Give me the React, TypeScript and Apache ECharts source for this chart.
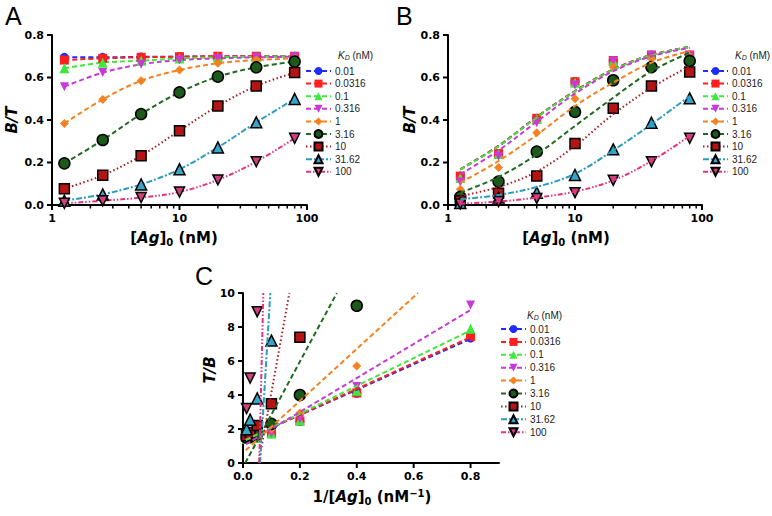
import { useEffect, useRef } from "react";
import * as echarts from "echarts";

// ---------- data ----------
const kdLabels = ["0.01", "0.0316", "0.1", "0.316", "1", "3.16", "10", "31.62", "100"];
const agConc = [1.25, 2.5, 5, 10, 20, 40, 80];
const invAgConc = [0.0125, 0.025, 0.05, 0.1, 0.2, 0.4, 0.8];
const logMajorTicks = [1, 10, 100];
const logMinorTicks = [2, 3, 4, 5, 6, 7, 8, 9, 20, 30, 40, 50, 60, 70, 80, 90];
const btTicks = [0, 0.2, 0.4, 0.6, 0.8];
const invTicks = [0, 0.2, 0.4, 0.6, 0.8];
const tbTicks = [0, 2, 4, 6, 8, 10];

// Panel A: B/T (points; fits pass through them)
const panelAPoints = [
  [0.695, 0.695, 0.697, 0.698, 0.699, 0.7, 0.7],
  [0.682, 0.69, 0.695, 0.698, 0.7, 0.7, 0.7],
  [0.643, 0.67, 0.679, 0.69, 0.695, 0.698, 0.7],
  [0.557, 0.623, 0.662, 0.682, 0.69, 0.695, 0.698],
  [0.384, 0.497, 0.585, 0.635, 0.667, 0.682, 0.69],
  [0.196, 0.306, 0.428, 0.53, 0.604, 0.648, 0.675],
  [0.077, 0.14, 0.232, 0.35, 0.466, 0.56, 0.623],
  [0.02, 0.05, 0.097, 0.168, 0.271, 0.389, 0.499],
  [0.008, 0.02, 0.035, 0.061, 0.118, 0.204, 0.314],
];

// Panel B: B/T points
const panelBPoints = [
  [0.136, 0.242, 0.408, 0.58, 0.68, 0.706, 0.706],
  [0.136, 0.242, 0.408, 0.58, 0.68, 0.706, 0.706],
  [0.127, 0.24, 0.405, 0.575, 0.678, 0.705, 0.705],
  [0.108, 0.23, 0.387, 0.565, 0.678, 0.704, 0.704],
  [0.074, 0.176, 0.34, 0.5, 0.65, 0.69, 0.7],
  [0.038, 0.11, 0.251, 0.438, 0.587, 0.649, 0.678],
  [0.02, 0.055, 0.136, 0.289, 0.455, 0.56, 0.626],
  [0.01, 0.035, 0.058, 0.141, 0.262, 0.387, 0.502],
  [0.005, 0.016, 0.031, 0.058, 0.116, 0.204, 0.314],
];

// Panel B: fitted curves (read at the same concentrations)
const panelBFits = [
  [0.168, 0.278, 0.414, 0.536, 0.638, 0.706, 0.744],
  [0.168, 0.278, 0.414, 0.536, 0.638, 0.706, 0.744],
  [0.166, 0.276, 0.412, 0.534, 0.636, 0.705, 0.743],
  [0.144, 0.257, 0.392, 0.524, 0.63, 0.7, 0.74],
  [0.105, 0.207, 0.33, 0.466, 0.576, 0.67, 0.725],
  [0.058, 0.132, 0.238, 0.372, 0.505, 0.63, 0.717],
  [0.042, 0.085, 0.157, 0.278, 0.427, 0.552, 0.654],
  [0.027, 0.047, 0.085, 0.147, 0.257, 0.38, 0.513],
  [0.006, 0.016, 0.035, 0.063, 0.116, 0.207, 0.325],
];

// Panel C: T/B points (null = off the plotted range)
const panelCPoints = [
  [1.42, 1.42, 1.47, 1.72, 2.45, 4.1, 7.35],
  [1.42, 1.43, 1.47, 1.73, 2.47, 4.12, 7.45],
  [1.42, 1.44, 1.48, 1.74, 2.5, 4.25, 7.9],
  [1.43, 1.45, 1.5, 1.77, 2.6, 4.5, 9.3],
  [1.45, 1.54, 1.68, 2.0, 2.94, 5.7, null],
  [1.49, 1.54, 1.7, 2.3, 4.0, 9.25, null],
  [1.6, 1.8, 2.2, 3.48, 7.4, null, null],
  [1.99, 2.55, 3.8, 7.2, null, null, null],
  [3.2, 5.0, 8.9, null, null, null, null],
];

// Panel C: fitted straight lines, start and end points [x, y]
const panelCFitStart = [
  [0.01, 1.4], [0.01, 1.4], [0.01, 1.35], [0.01, 1.1], [0.01, 0.75],
  [0.008, 0], [0.055, 0], [0.06, 0], [0.057, 0],
];
const panelCFitEnd = [
  [0.8, 7.3], [0.8, 7.4], [0.8, 7.8], [0.8, 9.0], [0.615, 10],
  [0.33, 10], [0.163, 10], [0.096, 10], [0.0715, 10],
];

// ---------- styles ----------
const DOWN_TRI = "path://M0,0L10,0L5,9Z";
const looks = [
  { fill: "#1f2cff", line: "#1f2cff", symbol: "circle", size: 9, border: 0, dash: [5, 3] },
  { fill: "#ff1f1f", line: "#ff1f1f", symbol: "rect", size: 9, border: 0, dash: [5, 3] },
  { fill: "#3ee83e", line: "#3ee83e", symbol: "triangle", size: 10, border: 0, dash: [5, 3] },
  { fill: "#c83ad8", line: "#c83ad8", symbol: DOWN_TRI, size: 9, border: 0, dash: [5, 3] },
  { fill: "#f58220", line: "#f58220", symbol: "diamond", size: 9, border: 0, dash: [5, 3] },
  { fill: "#1b5a1b", line: "#1f6a1f", symbol: "circle", size: 11, border: 1.5, dash: [5, 3] },
  { fill: "#b51414", line: "#a51d1d", symbol: "rect", size: 10, border: 1.5, dash: [1.5, 2.5] },
  { fill: "#35a6c8", line: "#2a9cbf", symbol: "triangle", size: 11, border: 1.5, dash: [6, 2, 2, 2] },
  { fill: "#d0407e", line: "#e8307f", symbol: DOWN_TRI, size: 10, border: 1.5, dash: [5, 2, 1.5, 2, 1.5, 2] },
];

const FONT = "DejaVu Sans";
const LEG_FONT = "Liberation Sans";

const tickLabel = { color: "#000", fontFamily: FONT, fontWeight: "bold" as const, fontSize: 11 };
const axisLine = { show: true, onZero: false, lineStyle: { color: "#000", width: 2 } };
const noTick = { show: false };

const gridA = { left: 52, top: 35, width: 255, height: 170 };
const gridB = { left: 448, top: 35, width: 254, height: 170 };
const gridC = { left: 243, top: 293, width: 256, height: 170 };

function itemStyleOf(k: number) {
  const l = looks[k];
  return { color: l.fill, borderColor: "#000", borderWidth: l.border, opacity: 1 };
}
function lineStyleOf(k: number) {
  const l = looks[k];
  return { color: l.line, width: 2, type: l.dash as any };
}

// tick marks drawn through the axes' own scales (api.coord)
function tickSeries(axisIdx: number, dir: "x" | "y", values: number[], base: number, len: number, width: number) {
  return {
    type: "custom", name: "_ticks", xAxisIndex: axisIdx, yAxisIndex: axisIdx,
    silent: true, z: 6, clip: false,
    data: values.map((v) => (dir === "x" ? [v, base] : [base, v])),
    renderItem: (_p: any, api: any) => {
      const pt = api.coord([api.value(0), api.value(1)]);
      const shape = dir === "x"
        ? { x1: pt[0], y1: pt[1], x2: pt[0], y2: pt[1] + len }
        : { x1: pt[0], y1: pt[1], x2: pt[0] - len, y2: pt[1] };
      return { type: "line", shape, style: { stroke: "#000", lineWidth: width } };
    },
  };
}

function buildOption(): any {
  const logX = (grid: number) => ({
    type: "log", logBase: 10, min: 1, max: 100, gridIndex: grid,
    axisLine, axisTick: noTick,
    axisLabel: { ...tickLabel, margin: 8 },
    splitLine: { show: false },
  });
  const btY = (grid: number) => ({
    type: "value", min: 0, max: 0.8, interval: 0.2, gridIndex: grid,
    axisLine, axisTick: noTick,
    axisLabel: { ...tickLabel, margin: 8, formatter: (v: number) => v.toFixed(1) },
    splitLine: { show: false },
  });

  const series: any[] = [];
  // Panel A
  kdLabels.forEach((name, k) => {
    series.push({
      type: "line", name, xAxisIndex: 0, yAxisIndex: 0,
      data: agConc.map((x, i) => [x, panelAPoints[k][i]]),
      smooth: 0.35, symbol: looks[k].symbol, symbolSize: looks[k].size,
      showSymbol: true, itemStyle: itemStyleOf(k), lineStyle: lineStyleOf(k),
      emphasis: { disabled: true },
    });
  });
  // Panel B fits
  kdLabels.forEach((name, k) => {
    series.push({
      type: "line", name, xAxisIndex: 1, yAxisIndex: 1,
      data: agConc.map((x, i) => [x, panelBFits[k][i]]),
      smooth: 0.35, symbol: looks[k].symbol, showSymbol: false,
      itemStyle: itemStyleOf(k), lineStyle: lineStyleOf(k),
      emphasis: { disabled: true },
    });
  });
  // Panel C fits
  kdLabels.forEach((name, k) => {
    series.push({
      type: "line", name, xAxisIndex: 2, yAxisIndex: 2,
      data: [panelCFitStart[k], panelCFitEnd[k]],
      symbol: looks[k].symbol, showSymbol: false,
      itemStyle: itemStyleOf(k), lineStyle: lineStyleOf(k),
      emphasis: { disabled: true },
    });
  });
  // Panel B points
  kdLabels.forEach((name, k) => {
    series.push({
      type: "scatter", name, xAxisIndex: 1, yAxisIndex: 1,
      data: agConc.map((x, i) => [x, panelBPoints[k][i]]),
      symbol: looks[k].symbol, symbolSize: looks[k].size,
      itemStyle: itemStyleOf(k), emphasis: { disabled: true },
    });
  });
  // Panel C points
  kdLabels.forEach((name, k) => {
    const pts: number[][] = [];
    invAgConc.forEach((x, i) => {
      const v = panelCPoints[k][i];
      if (v !== null) pts.push([x, v]);
    });
    series.push({
      type: "scatter", name, xAxisIndex: 2, yAxisIndex: 2, data: pts,
      symbol: looks[k].symbol, symbolSize: looks[k].size,
      itemStyle: itemStyleOf(k), emphasis: { disabled: true },
    });
  });
  // Tick marks
  [0, 1].forEach((idx) => {
    series.push(tickSeries(idx, "x", logMajorTicks, 0, 5, 2));
    series.push(tickSeries(idx, "x", logMinorTicks, 0, 3.5, 1.5));
    series.push(tickSeries(idx, "y", btTicks, 1, 5, 2));
  });
  series.push(tickSeries(2, "x", invTicks, 0, 5, 2));
  series.push(tickSeries(2, "y", tbTicks, 0, 5, 2));

  const legendBase = {
    orient: "vertical", data: kdLabels, itemWidth: 25, itemHeight: 10,
    selectedMode: false, padding: 0,
    textStyle: { fontFamily: LEG_FONT, fontSize: 10, color: "#222", padding: [0, 0, 0, -1] },
  };

  const richX = {
    b: { fontFamily: FONT, fontSize: 15, fontWeight: "bold", fill: "#000" },
    i: { fontFamily: FONT, fontSize: 15, fontWeight: "bold", fontStyle: "italic", fill: "#000" },
    s: { fontFamily: FONT, fontSize: 10, fontWeight: "bold", padding: [8, 0, 0, 0], fill: "#000" },
    p: { fontFamily: FONT, fontSize: 10, fontWeight: "bold", padding: [0, 0, 8, 0], fill: "#000" },
  };
  const richKd = {
    i: { fontFamily: LEG_FONT, fontSize: 10, fontStyle: "italic", fill: "#222" },
    d: { fontFamily: LEG_FONT, fontSize: 7, fontStyle: "italic", padding: [5, 0, 0, 0], fill: "#222" },
    n: { fontFamily: LEG_FONT, fontSize: 10, fill: "#222" },
  };
  const yTitle = (x: number, y: number, text: string) => ({
    type: "text", x, y, rotation: Math.PI / 2,
    style: { text, fontFamily: FONT, fontSize: 15, fontWeight: "bold", fontStyle: "italic", fill: "#000", align: "center", verticalAlign: "middle" },
  });
  const xTitle = (x: number, y: number, text: string) => ({
    type: "text", x, y,
    style: { text, rich: richX, fontFamily: FONT, fontSize: 15, fontWeight: "bold", fill: "#000", align: "center", verticalAlign: "middle" },
  });
  const kdTitle = (x: number, y: number) => ({
    type: "text", x, y,
    style: { text: "{i|K}{d|D}{n| (nM)}", rich: richKd, align: "left", verticalAlign: "middle" },
  });
  const panelLabel = (x: number, y: number, text: string) => ({
    type: "text", x, y,
    style: { text, fontFamily: LEG_FONT, fontSize: 25, fill: "#000", align: "left", verticalAlign: "top" },
  });

  return {
    animation: false,
    backgroundColor: "#fff",
    grid: [gridA, gridB, gridC],
    xAxis: [
      logX(0), logX(1),
      {
        type: "value", min: 0, max: 0.9, gridIndex: 2,
        axisLine, axisTick: noTick,
        axisLabel: { ...tickLabel, margin: 8, customValues: invTicks, formatter: (v: number) => v.toFixed(1) },
        splitLine: { show: false },
      },
    ],
    yAxis: [
      btY(0), btY(1),
      {
        type: "value", min: 0, max: 10, interval: 2, gridIndex: 2,
        axisLine, axisTick: noTick, axisLabel: { ...tickLabel, margin: 8 },
        splitLine: { show: false },
      },
    ],
    legend: [
      { ...legendBase, itemGap: 2.6, left: 305, top: 66 },
      { ...legendBase, itemGap: 2.6, left: 702, top: 66 },
      { ...legendBase, itemGap: 2.9, left: 500, top: 324 },
    ],
    graphic: [
      panelLabel(5, 3, "A"),
      panelLabel(396, 3, "B"),
      panelLabel(195, 263, "C"),
      yTitle(12, 120, "B/T"),
      yTitle(410, 120, "B/T"),
      yTitle(210, 370, "T/B"),
      xTitle(174, 238, "{b|[}{i|Ag}{b|]}{s|0}{b| (nM)}"),
      xTitle(566, 238, "{b|[}{i|Ag}{b|]}{s|0}{b| (nM)}"),
      xTitle(372, 497, "{b|1/[}{i|Ag}{b|]}{s|0}{b| (nM}{p|−1}{b|)}"),
      kdTitle(338, 55),
      kdTitle(735, 55),
      kdTitle(527, 315),
    ],
    series,
  };
}

export default function App() {
  const ref = useRef<HTMLDivElement>(null);
  useEffect(() => {
    if (!ref.current) return;
    const chart = echarts.init(ref.current, null, { renderer: "svg" });
    chart.setOption(buildOption());
    return () => chart.dispose();
  }, []);
  return (
    <div
      ref={ref}
      style={{ position: "fixed", left: 0, top: 0, width: 772, height: 516, background: "#fff" }}
    />
  );
}
